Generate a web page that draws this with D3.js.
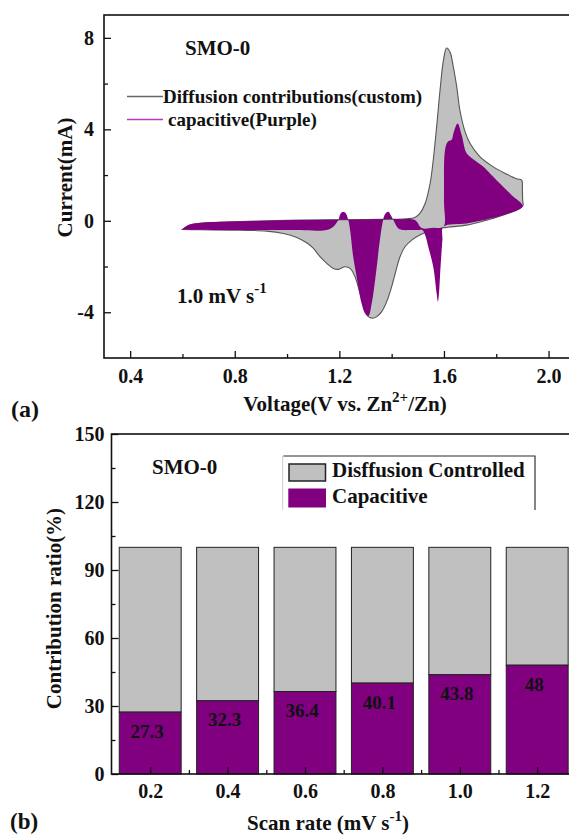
<!DOCTYPE html>
<html>
<head>
<meta charset="utf-8">
<script src="https://cdn.jsdelivr.net/npm/d3@7"></script>
<style>
  body { margin: 0; background: #fff; }
  svg { display: block; }
  text { font-family: "Liberation Serif", "Times New Roman", serif; font-weight: bold; fill: #111; }
</style>
</head>
<body>
<svg id="fig" width="569" height="836"></svg>
<script>
// ---- panel (a): CV at 1.0 mV/s, points are [voltage (V), current (mA)]
// total current, anodic sweep 0.6 -> 1.9 V (incl. vertex)
const totalForward = [
  [0.600, -0.378], [0.629, -0.188], [0.693, -0.086], [0.795, -0.043], [1.050, 0.030],
  [1.305, 0.059], [1.457, 0.088], [1.489, 0.146], [1.508, 0.321], [1.528, 0.758],
  [1.547, 1.631], [1.559, 2.650], [1.572, 4.106], [1.585, 5.707], [1.598, 7.017],
  [1.610, 7.556], [1.623, 7.381], [1.636, 6.726], [1.649, 5.852], [1.661, 4.834],
  [1.681, 3.887], [1.700, 3.378], [1.738, 2.796], [1.789, 2.359], [1.840, 2.039],
  [1.878, 1.835], [1.897, 1.777], [1.900, 1.300], [1.901, 0.900]
];
// total current, cathodic sweep 1.9 -> 0.6 V
const totalReverse = [
  [1.901, 0.641], [1.814, 0.205], [1.763, 0.030], [1.687, -0.188], [1.598, -0.305],
  [1.547, -0.436], [1.508, -0.625], [1.477, -0.843], [1.451, -1.134], [1.432, -1.571],
  [1.417, -2.153], [1.400, -2.881], [1.381, -3.536], [1.362, -3.973], [1.343, -4.191],
  [1.327, -4.264], [1.315, -4.220], [1.305, -4.118], [1.279, -3.172], [1.260, -2.445],
  [1.241, -2.081], [1.222, -2.008], [1.196, -2.124], [1.177, -2.081], [1.152, -1.862],
  [1.126, -1.571], [1.101, -1.207], [1.075, -0.960], [1.037, -0.727], [0.986, -0.552],
  [0.922, -0.450], [0.795, -0.407], [0.667, -0.392], [0.600, -0.378]
];
// capacitive part, upper edge left -> right
const capUpper = [
  [0.600, -0.378], [0.622, -0.188], [0.667, -0.086], [0.795, -0.028], [0.922, 0.001],
  [1.050, 0.030], [1.177, 0.045], [1.305, 0.059], [1.432, 0.074], [1.489, 0.030],
  [1.515, -0.319], [1.559, -0.305], [1.598, -0.261], [1.600, 0.903], [1.604, 3.087],
  [1.614, 3.451], [1.630, 3.553], [1.636, 3.815], [1.652, 4.251], [1.668, 3.742],
  [1.684, 3.014], [1.700, 2.796], [1.725, 2.577], [1.751, 2.359], [1.776, 2.068],
  [1.814, 1.631], [1.859, 1.122], [1.901, 0.641]
];
// capacitive part, lower edge right -> left
const capLower = [
  [1.814, 0.205], [1.763, 0.059], [1.687, -0.116], [1.598, -0.261], [1.594, -0.843],
  [1.587, -2.008], [1.581, -3.172], [1.577, -3.536], [1.572, -3.172], [1.559, -2.008],
  [1.540, -1.134], [1.528, -0.625], [1.517, -0.407], [1.496, -0.407], [1.470, -0.407],
  [1.445, -0.407], [1.426, -0.334], [1.413, -0.116], [1.400, 0.176], [1.387, 0.394],
  [1.375, 0.292], [1.366, -0.043], [1.355, -0.843], [1.340, -2.299], [1.324, -3.609],
  [1.311, -4.162], [1.298, -4.046], [1.285, -3.609], [1.266, -2.445], [1.253, -1.571],
  [1.241, -0.407], [1.234, 0.030], [1.225, 0.321], [1.215, 0.394], [1.205, 0.321],
  [1.196, 0.030], [1.177, -0.261], [1.152, -0.407], [1.113, -0.436], [1.050, -0.407],
  [0.922, -0.407], [0.795, -0.407], [0.667, -0.392], [0.600, -0.378]
];
const cvTicksX = [0.4, 0.8, 1.2, 1.6, 2.0];
const cvMinorX = [0.6, 1.0, 1.4, 1.8];
const cvTicksY = [-4, 0, 4, 8];
const cvMinorY = [-2, 2, 6];

// ---- panel (b): contribution ratio
const scanRates = [0.2, 0.4, 0.6, 0.8, 1.0, 1.2];
const capacitivePct = [27.3, 32.3, 36.4, 40.1, 43.8, 48];
const barTicksY = [0, 30, 60, 90, 120, 150];
const barMinorY = [15, 45, 75, 105, 135];
const barMinorX = [0.3, 0.5, 0.7, 0.9, 1.1];

const PURPLE = "#800080";
const GREY = "#c0c0c0";

const svg = d3.select("#fig");

function frameAxes(g, x, y, opt) {
  const [x0, x1] = x.range();
  const [y0, y1] = y.range();
  g.append("g").attr("transform", `translate(0,${y0})`)
    .call(d3.axisBottom(x).tickValues(opt.xt).tickSize(-7).tickPadding(opt.xpad).tickFormat(d3.format(".1f")));
  g.append("g").attr("transform", `translate(0,${y0})`)
    .call(d3.axisBottom(x).tickValues(opt.xm).tickSize(-4).tickFormat(""));
  g.append("g").attr("transform", `translate(${x0},0)`)
    .call(d3.axisLeft(y).tickValues(opt.yt).tickSize(-7).tickPadding(opt.ypad).tickFormat(d => String(d)));
  g.append("g").attr("transform", `translate(${x0},0)`)
    .call(d3.axisLeft(y).tickValues(opt.ym).tickSize(-4).tickFormat(""));
  g.selectAll(".domain").remove();
  g.selectAll(".tick line").attr("stroke", "#111").attr("stroke-width", 1.3);
  g.selectAll(".tick text").style("font-size", "20px").attr("fill", "#111");
  g.append("rect")
    .attr("x", x0).attr("y", y1).attr("width", x1 - x0).attr("height", y0 - y1)
    .attr("fill", "none").attr("stroke", "#111").attr("stroke-width", 1.6);
}

// ================= panel (a)
const xA = d3.scaleLinear().domain([0.3, 2.1]).range([104, 574.7]);
const yA = d3.scaleLinear().domain([-6, 9]).range([358, 15]);
const gA = svg.append("g");

gA.append("clipPath").attr("id", "clipA").append("rect")
  .attr("x", 104).attr("y", 15).attr("width", 470).attr("height", 343);

const cvLine = d3.line().x(d => xA(d[0])).y(d => yA(d[1])).curve(d3.curveCatmullRom.alpha(0.5));
const plotA = gA.append("g").attr("clip-path", "url(#clipA)");
plotA.append("path")
  .attr("d", cvLine(totalForward.concat(totalReverse)) + "Z")
  .attr("fill", GREY).attr("stroke", "#555").attr("stroke-width", 1.1);
plotA.append("path")
  .attr("d", cvLine(capUpper.concat(capLower)) + "Z")
  .attr("fill", PURPLE).attr("stroke", "none");

frameAxes(gA, xA, yA, { xt: cvTicksX, xm: cvMinorX, yt: cvTicksY, ym: cvMinorY, xpad: 11, ypad: 10 });

gA.append("text").attr("x", 185).attr("y", 55).style("font-size", "21px").text("SMO-0");

// legend (a)
gA.append("line").attr("x1", 127).attr("x2", 163).attr("y1", 96.5).attr("y2", 96.5)
  .attr("stroke", "#666").attr("stroke-width", 1.5);
gA.append("text").attr("x", 163).attr("y", 103).style("font-size", "19px").text("Diffusion contributions(custom)");
gA.append("line").attr("x1", 127).attr("x2", 163).attr("y1", 119.5).attr("y2", 119.5)
  .attr("stroke", "#b43cb4").attr("stroke-width", 1.5);
gA.append("text").attr("x", 168).attr("y", 126).style("font-size", "19px").text("capacitive(Purple)");

const rateA = gA.append("text").attr("x", 177).attr("y", 303).style("font-size", "21px");
rateA.append("tspan").text("1.0 mV s");
rateA.append("tspan").attr("dy", -10).style("font-size", "15px").text("-1");

gA.append("text").attr("transform", "translate(72,177.5) rotate(-90)")
  .attr("text-anchor", "middle").style("font-size", "21px").text("Current(mA)");

const xtA = gA.append("text").attr("x", 345).attr("y", 411).attr("text-anchor", "middle").style("font-size", "21px");
xtA.append("tspan").text("Voltage(V vs. Zn");
xtA.append("tspan").attr("dy", -9).style("font-size", "15px").text("2+");
xtA.append("tspan").attr("dy", 9).text("/Zn)");

gA.append("text").attr("x", 11).attr("y", 417).style("font-size", "24px").text("(a)");

// ================= panel (b)
const xB = d3.scaleLinear().domain([0.1, 1.3]).range([111.5, 575.9]);
const yB = d3.scaleLinear().domain([0, 150]).range([774, 434]);
const gB = svg.append("g");
const bw = xB(0.18) - xB(0.02);

const bars = gB.selectAll(".bar").data(scanRates.map((r, i) => ({ r, v: capacitivePct[i] })))
  .enter().append("g").attr("class", "bar");
bars.append("rect")
  .attr("x", d => xB(d.r) - bw / 2).attr("y", yB(100))
  .attr("width", bw).attr("height", d => yB(d.v) - yB(100))
  .attr("fill", GREY).attr("stroke", "#222").attr("stroke-width", 1);
bars.append("rect")
  .attr("x", d => xB(d.r) - bw / 2).attr("y", d => yB(d.v))
  .attr("width", bw).attr("height", d => yB(0) - yB(d.v))
  .attr("fill", PURPLE).attr("stroke", "#222").attr("stroke-width", 1);
bars.append("text")
  .attr("x", d => xB(d.r) - 3).attr("y", d => yB(d.v) + 19).attr("dy", "0.35em")
  .attr("text-anchor", "middle").style("font-size", "19px")
  .text(d => String(d.v));

frameAxes(gB, xB, yB, { xt: scanRates, xm: barMinorX, yt: barTicksY, ym: barMinorY, xpad: 10, ypad: 7 });

gB.append("text").attr("x", 152).attr("y", 474).style("font-size", "21px").text("SMO-0");

// legend (b)
const lg = gB.append("g");
lg.append("path").attr("d", "M282.7,510V456H535V510").attr("fill", "none").attr("stroke", "#ccc").attr("stroke-width", 1);
lg.append("path").attr("d", "M283.5,456H535V510").attr("fill", "none").attr("stroke", "#444").attr("stroke-width", 1.2);
lg.append("rect").attr("x", 289).attr("y", 464).attr("width", 36.5).attr("height", 17)
  .attr("fill", GREY).attr("stroke", "#222").attr("stroke-width", 1.5);
lg.append("rect").attr("x", 288.3).attr("y", 488.5).attr("width", 37.7).attr("height", 19)
  .attr("fill", PURPLE);
lg.append("text").attr("x", 332).attr("y", 477).style("font-size", "21px").text("Disffusion Controlled");
lg.append("text").attr("x", 332).attr("y", 503).style("font-size", "21px").text("Capacitive");

gB.append("text").attr("transform", "translate(61,608.5) rotate(-90)")
  .attr("text-anchor", "middle").style("font-size", "21px").text("Contribution ratio(%)");

const xtB = gB.append("text").attr("x", 328).attr("y", 830).attr("text-anchor", "middle").style("font-size", "21px");
xtB.append("tspan").text("Scan rate (mV s");
xtB.append("tspan").attr("dy", -9).style("font-size", "15px").text("-1");
xtB.append("tspan").attr("dy", 9).text(")");

gB.append("text").attr("x", 10).attr("y", 829).style("font-size", "23px").text("(b)");
</script>
</body>
</html>
